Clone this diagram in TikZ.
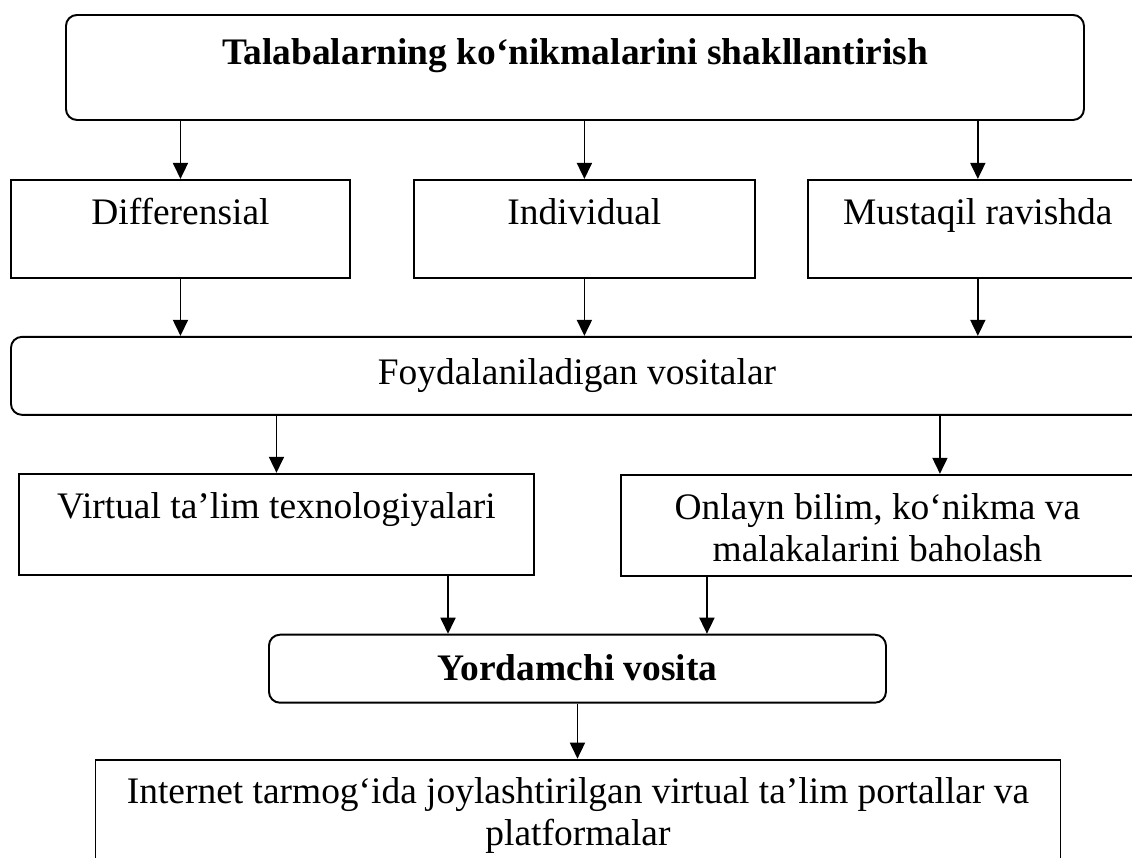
\documentclass[tikz,border=0pt]{standalone}
\usepackage{fontspec}
\setmainfont{Liberation Serif}
\usetikzlibrary{calc,arrows.meta}

\begin{document}
\begin{tikzpicture}[box/.style={draw,rectangle,inner sep=0pt,line width=1.1pt,font={\fontsize{21.3}{24}\selectfont}},
                    rbox/.style={box,rounded corners=0.22cm},
                    link/.style={-{Triangle[width=0.30cm,length=0.32cm]},line width=1pt}]
    \useasboundingbox (0,0) rectangle (22.64,-17.14);
    \clip (0,0) rectangle (22.64,-17.14);

    \node[rbox,anchor=north west] (title) at (1.30,-0.28) {
        \parbox[c][2.10cm][t]{20.36cm}{
            \centering\vspace*{0.41cm}
            \strut\textbf{Talabalarning ko‘nikmalarini shakllantirish}
        }
    };

    \node[box,anchor=north west] (dif) at ($ (title.south west) + (-1.10,-1.16) $) {
        \parbox[c][1.96cm][t]{6.78cm}{\centering\vspace*{0.31cm}\strut Differensial}
    };
    \node[box,anchor=north west] (ind) at ($ (dif.north east) + (1.24,0) $) {
        \parbox[c][1.96cm][t]{6.82cm}{\centering\vspace*{0.31cm}\strut Individual}
    };
    \node[box,anchor=north west] (mus) at ($ (ind.north east) + (1.02,0) $) {
        \parbox[c][1.96cm][t]{6.80cm}{\centering\vspace*{0.31cm}\strut Mustaqil ravishda}
    };

    \node[rbox,anchor=north west] (foyd) at ($ (dif.south west) + (0,-1.14) $) {
        \parbox[c][1.56cm][t]{22.64cm}{\centering\vspace*{0.37cm}\strut Foydalaniladigan vositalar}
    };

    \node[box,anchor=north west] (virt) at ($ (foyd.south west) + (0.16,-1.14) $) {
        \parbox[c][2.02cm][t]{10.30cm}{\centering\vspace*{0.31cm}\strut Virtual ta’lim texnologiyalari}
    };
    \node[box,anchor=north west] (onl) at ($ (virt.north east) + (1.70,-0.02) $) {
        \parbox[c][2.02cm][t]{10.26cm}{
            \centering\vspace*{0.31cm}
            \strut Onlayn bilim, ko‘nikma va\\
            malakalarini baholash
        }
    };

    \node[rbox,anchor=north west] (yord) at ($ (virt.south west) + (5.00,-1.16) $) {
        \parbox[c][1.36cm][t]{12.34cm}{\centering\vspace*{0.33cm}\strut\textbf{Yordamchi vosita}}
    };

    \node[box,anchor=north west] (inet) at ($ (yord.south west) + (-3.47,-1.10) $) {
        \parbox[c][2.60cm][t]{19.30cm}{
            \centering\vspace*{0.29cm}
            \strut Internet tarmog‘ida joylashtirilgan virtual ta’lim portallar va\\
            platformalar
        }
    };

    \coordinate (onltop) at ($ (onl.north west) + (6.40,0) $);
    \coordinate (virtout) at ($ (virt.south west) + (8.60,0) $);
    \coordinate (onlout) at ($ (onl.south west) + (1.74,0) $);

    \draw[link] (title.south -| dif.north) -- (dif.north);
    \draw[link] (title.south -| ind.north) -- (ind.north);
    \draw[link] (title.south -| mus.north) -- (mus.north);
    \draw[link] (dif.south) -- (dif.south |- foyd.north);
    \draw[link] (ind.south) -- (ind.south |- foyd.north);
    \draw[link] (mus.south) -- (mus.south |- foyd.north);
    \draw[link] (foyd.south -| virt.north) -- (virt.north);
    \draw[link] (foyd.south -| onltop) -- (onltop);
    \draw[link] (virtout) -- (virtout |- yord.north);
    \draw[link] (onlout) -- (onlout |- yord.north);
    \draw[link] (yord.south) -- (yord.south |- inet.north);
\end{tikzpicture}
\end{document}
